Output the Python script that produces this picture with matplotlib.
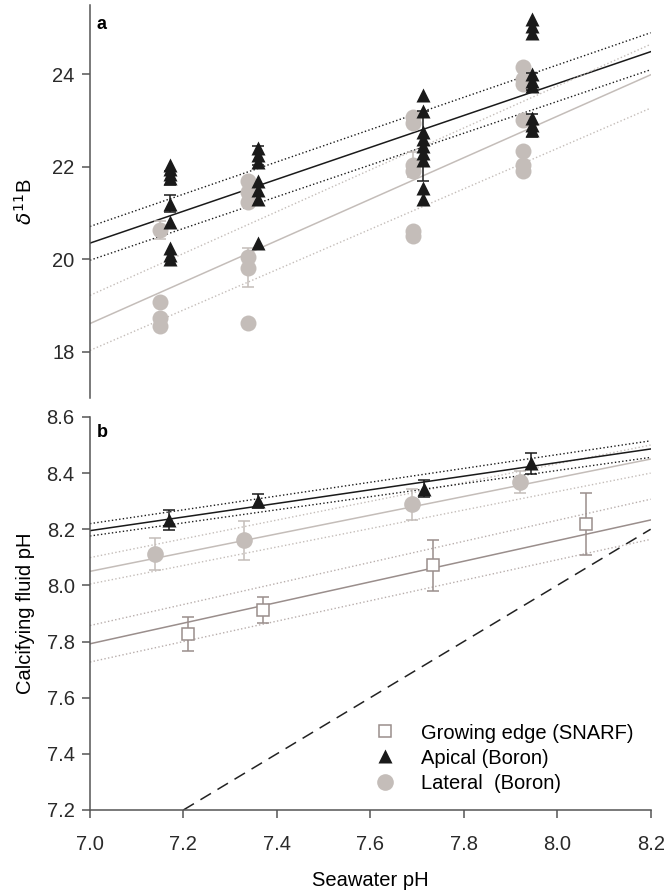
import numpy as np
import matplotlib.pyplot as plt

plt.rcParams['font.family'] = ['Liberation Sans', 'DejaVu Sans']

# --- colours
c_apical = '#1a1a1a'
c_lateral = '#c4bdb9'
c_snarf = '#9a8e8c'

# --- panel a data (d11B)
a_apical_x = [7.171, 7.36, 7.712, 7.946]
a_apical = [
	[22.05, 21.95, 21.85, 21.75, 21.2, 20.8, 20.25, 20.1, 20.0],
	[22.4, 22.25, 22.1, 21.7, 21.5, 21.3, 20.35],
	[23.55, 23.2, 22.75, 22.6, 22.45, 22.3, 22.15, 21.55, 21.3],
	[25.2, 25.05, 24.9, 24.0, 23.85, 23.75, 23.05, 22.9, 22.8],
]
a_apical_err = [
	[0, 0, 0, 0.15, 0.18, 0, 0, 0, 0],
	[0, 0.2, 0, 0, 0, 0, 0],
	[0, 0, 0, 0, 0.75, 0, 0, 0, 0],
	[0, 0, 0, 0, 0.18, 0, 0, 0.25, 0],
]
a_lateral_x = [7.15, 7.339, 7.692, 7.926]
a_lateral = [
	[20.63, 19.08, 18.72, 18.55],
	[21.7, 21.45, 21.25, 20.05, 19.82, 18.62],
	[23.08, 22.95, 22.05, 21.9, 20.62, 20.5],
	[24.15, 23.9, 23.8, 23.02, 22.35, 22.05, 21.9],
]
a_lateral_err = [
	[0.2, 0, 0, 0],
	[0, 0, 0, 0, 0.42, 0],
	[0, 0, 0.28, 0, 0, 0],
	[0, 0, 0, 0, 0, 0, 0],
]

# regression lines + confidence limits (read at pH 7.0 and 8.2)
fit_x = [7.0, 8.2]
a_apical_fit = [20.35, 24.49]
a_apical_hi = [20.71, 24.9]
a_apical_lo = [19.98, 24.1]
a_lateral_fit = [18.61, 23.99]
a_lateral_hi = [19.22, 24.65]
a_lateral_lo = [18.03, 23.27]

# --- panel b data (calcifying fluid pH)
b_snarf_x = [7.209, 7.371, 7.735, 8.062]
b_snarf = [7.826, 7.912, 8.071, 8.22]
b_snarf_err = [0.06, 0.045, 0.09, 0.11]
b_apical_x = [7.17, 7.36, 7.715, 7.945]
b_apical = [8.234, 8.3, 8.345, 8.435]
b_apical_err = [0.035, 0.025, 0.03, 0.037]
b_lateral_x = [7.14, 7.33, 7.69, 7.92]
b_lateral = [8.113, 8.161, 8.289, 8.368]
b_lateral_err = [0.057, 0.07, 0.056, 0.04]

b_apical_fit = [8.195, 8.486]
b_apical_hi = [8.22, 8.515]
b_apical_lo = [8.176, 8.456]
b_lateral_fit = [8.05, 8.45]
b_lateral_hi = [8.099, 8.5]
b_lateral_lo = [8.005, 8.40]
b_snarf_fit = [7.792, 8.233]
b_snarf_hi = [7.857, 8.307]
b_snarf_lo = [7.727, 8.164]

one_to_one = [7.2, 8.2]

fs = 14.5

# --- figure
fig = plt.figure(figsize=(6.68, 8.94), dpi=100)
ax_a = fig.add_axes([0.1347, 0.5548, 0.8393, 0.4396])
ax_b = fig.add_axes([0.1347, 0.0940, 0.8393, 0.4396])

for ax in (ax_a, ax_b):
	ax.set_xlim(7.0, 8.2)
	for s in ('top', 'right'):
		ax.spines[s].set_visible(False)
	for s in ('left', 'bottom'):
		ax.spines[s].set_color('#555555')
		ax.spines[s].set_linewidth(1.1)
	ax.tick_params(direction='out', length=6, width=1.1, color='#555555', labelsize=fs, labelcolor='#2a2a2a', pad=5)

# panel a
ax_a.plot(fit_x, a_apical_fit, '-', color=c_apical, lw=1.1, zorder=2)
ax_a.plot(fit_x, a_apical_hi, ':', color=c_apical, lw=1.0, zorder=2)
ax_a.plot(fit_x, a_apical_lo, ':', color=c_apical, lw=1.0, zorder=2)
ax_a.plot(fit_x, a_lateral_fit, '-', color=c_lateral, lw=1.1, zorder=2)
ax_a.plot(fit_x, a_lateral_hi, ':', color=c_lateral, lw=1.0, zorder=2)
ax_a.plot(fit_x, a_lateral_lo, ':', color=c_lateral, lw=1.0, zorder=2)

for x, ys, es in zip(a_lateral_x, a_lateral, a_lateral_err):
	ys = np.array(ys)
	es = np.array(es)
	m = es > 0
	ax_a.errorbar(np.full(m.sum(), x), ys[m], yerr=es[m], fmt='none', ecolor=c_lateral, elinewidth=1.1, capsize=4.5, capthick=1.1, zorder=3)
	ax_a.plot(np.full(len(ys), x), ys, 'o', color=c_lateral, ms=11.5, mec='none', zorder=3)

for x, ys, es in zip(a_apical_x, a_apical, a_apical_err):
	ys = np.array(ys)
	es = np.array(es)
	m = es > 0
	ax_a.errorbar(np.full(m.sum(), x), ys[m], yerr=es[m], fmt='none', ecolor=c_apical, elinewidth=1.1, capsize=4.5, capthick=1.1, zorder=4)
	ax_a.plot(np.full(len(ys), x), ys, '^', color=c_apical, ms=9.5, mec='none', zorder=4)

ax_a.set_ylim(17.0, 25.5)
ax_a.set_yticks([18, 20, 22, 24])
ax_a.spines['bottom'].set_visible(False)
ax_a.tick_params(axis='x', bottom=False, labelbottom=False)
ax_a.set_ylabel(r'$\delta^{11}$B', fontsize=fs, labelpad=12)
ax_a.text(0.012, 0.95, 'a', transform=ax_a.transAxes, fontsize=13, fontweight='bold', va='center')

# panel b
ax_b.plot(one_to_one, one_to_one, '--', color='#222222', lw=1.1, dashes=(8, 5), zorder=1)

ax_b.plot(fit_x, b_snarf_fit, '-', color=c_snarf, lw=1.1, zorder=2)
ax_b.plot(fit_x, b_snarf_hi, ':', color='#b8aeac', lw=1.0, zorder=2)
ax_b.plot(fit_x, b_snarf_lo, ':', color='#b8aeac', lw=1.0, zorder=2)
ax_b.plot(fit_x, b_lateral_fit, '-', color=c_lateral, lw=1.1, zorder=2)
ax_b.plot(fit_x, b_lateral_hi, ':', color=c_lateral, lw=1.0, zorder=2)
ax_b.plot(fit_x, b_lateral_lo, ':', color=c_lateral, lw=1.0, zorder=2)
ax_b.plot(fit_x, b_apical_fit, '-', color=c_apical, lw=1.1, zorder=2)
ax_b.plot(fit_x, b_apical_hi, ':', color=c_apical, lw=1.0, zorder=2)
ax_b.plot(fit_x, b_apical_lo, ':', color=c_apical, lw=1.0, zorder=2)

ax_b.errorbar(b_snarf_x, b_snarf, yerr=b_snarf_err, fmt='s', ms=9, mfc='white', mec=c_snarf, mew=1.1,
	ecolor=c_snarf, elinewidth=1.1, capsize=4.5, capthick=1.1, zorder=3, label='Growing edge (SNARF)')
ax_b.errorbar(b_apical_x, b_apical, yerr=b_apical_err, fmt='^', ms=9.5, color=c_apical, mec='none',
	ecolor=c_apical, elinewidth=1.1, capsize=4.5, capthick=1.1, zorder=4, label='Apical (Boron)')
ax_b.errorbar(b_lateral_x, b_lateral, yerr=b_lateral_err, fmt='o', ms=12, color=c_lateral, mec='none',
	ecolor=c_lateral, elinewidth=1.1, capsize=4.5, capthick=1.1, zorder=3, label='Lateral  (Boron)')

ax_b.set_ylim(7.2, 8.6)
ax_b.set_yticks(np.arange(7.2, 8.61, 0.2))
ax_b.set_yticklabels(['%.1f' % v for v in np.arange(7.2, 8.61, 0.2)])
ax_b.set_xticks(np.arange(7.0, 8.21, 0.2))
ax_b.set_xticklabels(['%.1f' % v for v in np.arange(7.0, 8.21, 0.2)])
ax_b.tick_params(axis='x', pad=12)
ax_b.set_ylabel('Calcifying fluid pH', fontsize=fs, labelpad=8)
ax_b.set_xlabel('Seawater pH', fontsize=fs, labelpad=12)
ax_b.text(0.012, 0.96, 'b', transform=ax_b.transAxes, fontsize=13, fontweight='bold', va='center')

handles, labels = ax_b.get_legend_handles_labels()
handles = [h[0] for h in handles]
ax_b.legend(handles, labels, loc='upper left', bbox_to_anchor=(0.508, 0.22), frameon=False,
	fontsize=fs, handlelength=1.0, handletextpad=1.3, labelspacing=0.3, borderpad=0, borderaxespad=0)

plt.savefig('out.png', dpi=100)
